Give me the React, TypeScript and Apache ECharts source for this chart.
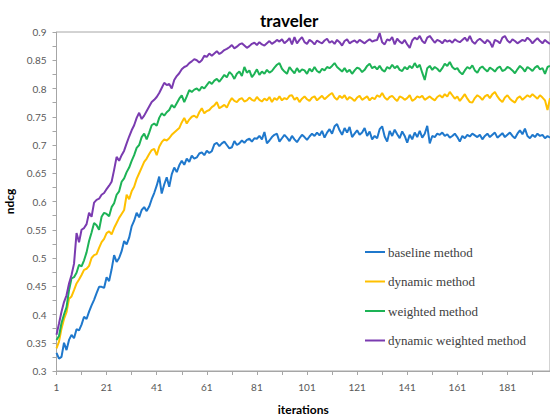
import React, { useEffect, useRef } from "react";
import * as echarts from "echarts";

const iterations: string[] = Array.from({ length: 198 }, (_, i) => String(i + 1));

const baseline: number[] = [
  0.332, 0.322, 0.325, 0.350, 0.337, 0.355, 0.364, 0.358, 0.374, 0.372,
  0.382, 0.396, 0.392, 0.405, 0.416, 0.426, 0.438, 0.449, 0.449, 0.447,
  0.466, 0.459, 0.480, 0.505, 0.493, 0.500, 0.512, 0.530, 0.524, 0.536,
  0.556, 0.566, 0.580, 0.572, 0.585, 0.590, 0.583, 0.591, 0.604, 0.615,
  0.628, 0.644, 0.614, 0.630, 0.643, 0.626, 0.648, 0.660, 0.652, 0.664,
  0.672, 0.665, 0.676, 0.670, 0.681, 0.676, 0.678, 0.685, 0.687, 0.682,
  0.690, 0.686, 0.689, 0.701, 0.704, 0.698, 0.703, 0.706, 0.700, 0.694,
  0.696, 0.707, 0.700, 0.703, 0.708, 0.704, 0.709, 0.711, 0.706, 0.712,
  0.711, 0.716, 0.710, 0.723, 0.703, 0.708, 0.714, 0.718, 0.720, 0.706,
  0.712, 0.718, 0.713, 0.707, 0.716, 0.710, 0.705, 0.712, 0.718, 0.714,
  0.709, 0.715, 0.720, 0.716, 0.722, 0.717, 0.725, 0.713, 0.722, 0.728,
  0.720, 0.733, 0.737, 0.726, 0.718, 0.730, 0.722, 0.732, 0.714, 0.720,
  0.726, 0.718, 0.722, 0.730, 0.716, 0.724, 0.710, 0.716, 0.712, 0.728,
  0.733, 0.715, 0.706, 0.725, 0.716, 0.727, 0.719, 0.712, 0.724, 0.716,
  0.704, 0.718, 0.710, 0.722, 0.714, 0.725, 0.713, 0.720, 0.734, 0.703,
  0.716, 0.714, 0.720, 0.718, 0.722, 0.716, 0.719, 0.713, 0.716, 0.720,
  0.714, 0.706, 0.716, 0.712, 0.718, 0.715, 0.720, 0.717, 0.714, 0.718,
  0.710, 0.716, 0.720, 0.714, 0.718, 0.722, 0.713, 0.717, 0.721, 0.714,
  0.718, 0.722, 0.716, 0.712, 0.720, 0.726, 0.719, 0.729, 0.716, 0.712,
  0.718, 0.714, 0.720, 0.716, 0.718, 0.712, 0.716, 0.713,
];

const dynamic: number[] = [
  0.340, 0.352, 0.375, 0.392, 0.404, 0.428, 0.432, 0.443, 0.455, 0.462,
  0.470, 0.479, 0.481, 0.486, 0.500, 0.505, 0.507, 0.518, 0.528, 0.534,
  0.544, 0.547, 0.542, 0.553, 0.562, 0.571, 0.578, 0.585, 0.612, 0.604,
  0.618, 0.626, 0.640, 0.650, 0.660, 0.670, 0.676, 0.684, 0.691, 0.693,
  0.682, 0.697, 0.705, 0.710, 0.708, 0.712, 0.718, 0.722, 0.726, 0.730,
  0.740, 0.748, 0.738, 0.745, 0.750, 0.752, 0.748, 0.758, 0.765, 0.756,
  0.760, 0.762, 0.767, 0.770, 0.776, 0.765, 0.768, 0.771, 0.766, 0.776,
  0.783, 0.778, 0.776, 0.781, 0.783, 0.777, 0.779, 0.784, 0.780, 0.778,
  0.785, 0.780, 0.777, 0.782, 0.779, 0.785, 0.776, 0.783, 0.780, 0.786,
  0.779, 0.783, 0.781, 0.787, 0.788, 0.780, 0.784, 0.776, 0.782, 0.786,
  0.781, 0.778, 0.784, 0.786, 0.779, 0.783, 0.787, 0.781, 0.785, 0.789,
  0.792, 0.784, 0.780, 0.787, 0.783, 0.788, 0.780, 0.785, 0.782, 0.778,
  0.784, 0.787, 0.780, 0.783, 0.786, 0.779, 0.784, 0.781, 0.788, 0.785,
  0.792, 0.784, 0.780, 0.785, 0.787, 0.782, 0.778, 0.786, 0.784, 0.780,
  0.783, 0.788, 0.778, 0.781, 0.786, 0.784, 0.787, 0.780, 0.783, 0.786,
  0.782, 0.779, 0.785, 0.788, 0.784, 0.790, 0.786, 0.794, 0.788, 0.782,
  0.786, 0.778, 0.784, 0.790, 0.782, 0.776, 0.775, 0.783, 0.788, 0.785,
  0.780, 0.786, 0.789, 0.783, 0.790, 0.794, 0.786, 0.780, 0.776, 0.784,
  0.788, 0.782, 0.778, 0.775, 0.783, 0.786, 0.780, 0.784, 0.788, 0.785,
  0.790, 0.786, 0.782, 0.788, 0.784, 0.779, 0.762, 0.783,
];

const weighted: number[] = [
  0.355, 0.362, 0.385, 0.400, 0.413, 0.443, 0.464, 0.466, 0.474, 0.488,
  0.485, 0.496, 0.510, 0.530, 0.545, 0.562, 0.558, 0.550, 0.573, 0.580,
  0.578, 0.574, 0.590, 0.597, 0.612, 0.618, 0.635, 0.641, 0.652, 0.660,
  0.672, 0.682, 0.695, 0.700, 0.714, 0.720, 0.710, 0.722, 0.735, 0.738,
  0.734, 0.748, 0.756, 0.752, 0.758, 0.762, 0.771, 0.766, 0.774, 0.782,
  0.788, 0.776, 0.786, 0.797, 0.794, 0.798, 0.800, 0.796, 0.803, 0.800,
  0.806, 0.812, 0.808, 0.814, 0.817, 0.812, 0.818, 0.824, 0.820, 0.829,
  0.825, 0.817, 0.826, 0.830, 0.822, 0.838, 0.828, 0.832, 0.820, 0.826,
  0.834, 0.824, 0.830, 0.826, 0.833, 0.828, 0.831, 0.837, 0.842, 0.845,
  0.835, 0.830, 0.826, 0.838, 0.832, 0.827, 0.836, 0.829, 0.834, 0.832,
  0.826, 0.835, 0.830, 0.838, 0.831, 0.828, 0.835, 0.832, 0.838, 0.836,
  0.840, 0.845, 0.838, 0.834, 0.830, 0.836, 0.829, 0.833, 0.826, 0.832,
  0.837, 0.835, 0.829, 0.833, 0.840, 0.844, 0.836, 0.839, 0.834, 0.840,
  0.833, 0.830, 0.838, 0.835, 0.842, 0.836, 0.840, 0.833, 0.831, 0.838,
  0.834, 0.840, 0.836, 0.845, 0.837, 0.842, 0.828, 0.815, 0.836, 0.840,
  0.833, 0.838, 0.835, 0.830, 0.836, 0.844, 0.840, 0.847, 0.838, 0.834,
  0.836, 0.829, 0.825, 0.832, 0.838, 0.835, 0.841, 0.832, 0.828, 0.836,
  0.839, 0.834, 0.830, 0.837, 0.834, 0.830, 0.836, 0.839, 0.831, 0.833,
  0.838, 0.836, 0.832, 0.827, 0.834, 0.840, 0.836, 0.830, 0.838, 0.835,
  0.831, 0.837, 0.840, 0.834, 0.836, 0.826, 0.838, 0.840,
];

const dynamicWeighted: number[] = [
  0.364, 0.384, 0.405, 0.422, 0.434, 0.455, 0.470, 0.490, 0.544, 0.528,
  0.550, 0.553, 0.560, 0.580, 0.573, 0.598, 0.603, 0.605, 0.612, 0.615,
  0.622, 0.628, 0.635, 0.656, 0.679, 0.672, 0.682, 0.690, 0.703, 0.715,
  0.726, 0.735, 0.748, 0.757, 0.746, 0.752, 0.760, 0.768, 0.776, 0.780,
  0.785, 0.792, 0.801, 0.810, 0.806, 0.808, 0.800, 0.815, 0.822, 0.827,
  0.834, 0.838, 0.840, 0.845, 0.848, 0.852, 0.850, 0.846, 0.850, 0.858,
  0.856, 0.862, 0.858, 0.862, 0.866, 0.861, 0.864, 0.868, 0.870, 0.873,
  0.877, 0.871, 0.874, 0.878, 0.880, 0.876, 0.872, 0.875, 0.879, 0.881,
  0.877, 0.882, 0.878, 0.876, 0.880, 0.884, 0.879, 0.882, 0.886, 0.883,
  0.887, 0.880, 0.884, 0.889, 0.878, 0.891, 0.880, 0.886, 0.891, 0.882,
  0.879, 0.886, 0.883, 0.878, 0.885, 0.882, 0.880, 0.885, 0.888, 0.881,
  0.884, 0.879, 0.886, 0.882, 0.876, 0.884, 0.887, 0.880, 0.883, 0.885,
  0.881, 0.886, 0.883, 0.880, 0.884, 0.887, 0.883, 0.885, 0.886, 0.898,
  0.882, 0.878, 0.887, 0.885, 0.891, 0.878, 0.888, 0.883, 0.880, 0.886,
  0.878, 0.872, 0.885, 0.890, 0.887, 0.893, 0.884, 0.880, 0.890, 0.893,
  0.887, 0.881, 0.886, 0.884, 0.880, 0.886, 0.883, 0.885, 0.881, 0.887,
  0.884, 0.882, 0.886, 0.890, 0.884, 0.893, 0.883, 0.879, 0.885, 0.888,
  0.884, 0.880, 0.886, 0.882, 0.873, 0.886, 0.884, 0.880, 0.890, 0.893,
  0.885, 0.881, 0.887, 0.884, 0.880, 0.883, 0.886, 0.884, 0.890, 0.886,
  0.880, 0.885, 0.889, 0.884, 0.880, 0.886, 0.882, 0.879,
];

const seriesNames = ["baseline method", "dynamic method", "weighted method", "dynamic weighted method"];
const seriesColors = ["#1f78cc", "#ffc000", "#1db356", "#7a3bb0"];

export default function App() {
  const ref = useRef<HTMLDivElement>(null);
  useEffect(() => {
    if (!ref.current) return;
    const chart = echarts.init(ref.current, undefined, { renderer: "svg" });
    const datasets = [baseline, dynamic, weighted, dynamicWeighted];
    const axisGray = "#a6a6a6";
    const labelStyle = { color: "#595959", fontFamily: "Lato", fontSize: 10 };
    chart.setOption({
      animation: false,
      backgroundColor: "#ffffff",
      title: {
        text: "traveler",
        left: 255,
        top: 7,
        textStyle: { fontFamily: "Lato", fontWeight: "bold", fontSize: 17, color: "#000" },
      },
      grid: {
        left: 56.5,
        right: 0,
        top: 32,
        bottom: 45,
        show: true,
        borderColor: axisGray,
        borderWidth: 1,
        outerBoundsMode: "none",
        containLabel: false,
      },
      legend: {
        orient: "vertical",
        left: 360,
        top: 240,
        icon: "rect",
        itemWidth: 20,
        itemHeight: 2,
        itemGap: 15.5,
        data: seriesNames,
        textStyle: { fontFamily: "Liberation Serif", fontSize: 13, color: "#404040", lineHeight: 14, padding: [0, 0, 0, -2] },
      },
      xAxis: {
        type: "category",
        data: iterations,
        boundaryGap: false,
        name: "iterations",
        nameLocation: "middle",
        nameGap: 32,
        nameTextStyle: { fontFamily: "Lato", fontWeight: "bold", fontSize: 12, color: "#000" },
        axisLine: { lineStyle: { color: axisGray } },
        axisTick: { show: true, interval: 9, length: 4, lineStyle: { color: axisGray } },
        axisLabel: { interval: 19, margin: 11, ...labelStyle },
        splitLine: { show: false },
      },
      yAxis: {
        type: "value",
        min: 0.3,
        max: 0.9,
        interval: 0.05,
        name: "ndcg",
        nameLocation: "middle",
        nameGap: 38,
        nameRotate: 90,
        nameTextStyle: { fontFamily: "Lato", fontWeight: "bold", fontSize: 12, color: "#000" },
        axisLine: { show: true, lineStyle: { color: axisGray } },
        axisTick: { show: true, length: 4, lineStyle: { color: axisGray } },
        minorTick: { show: true, splitNumber: 2, length: 4, lineStyle: { color: axisGray } },
        axisLabel: {
          margin: 10,
          ...labelStyle,
          formatter: (v: number) => String(Math.round(v * 100) / 100),
        },
        splitLine: { show: false },
      },
      series: datasets.map((d, i) => ({
        name: seriesNames[i],
        type: "line",
        data: d,
        symbol: "none",
        showSymbol: false,
        lineStyle: { width: 2, color: seriesColors[i] },
        itemStyle: { color: seriesColors[i] },
      })),
    });
    return () => chart.dispose();
  }, []);
  return <div ref={ref} style={{ position: "absolute", left: 0, top: 0, width: 550, height: 416 }} />;
}
